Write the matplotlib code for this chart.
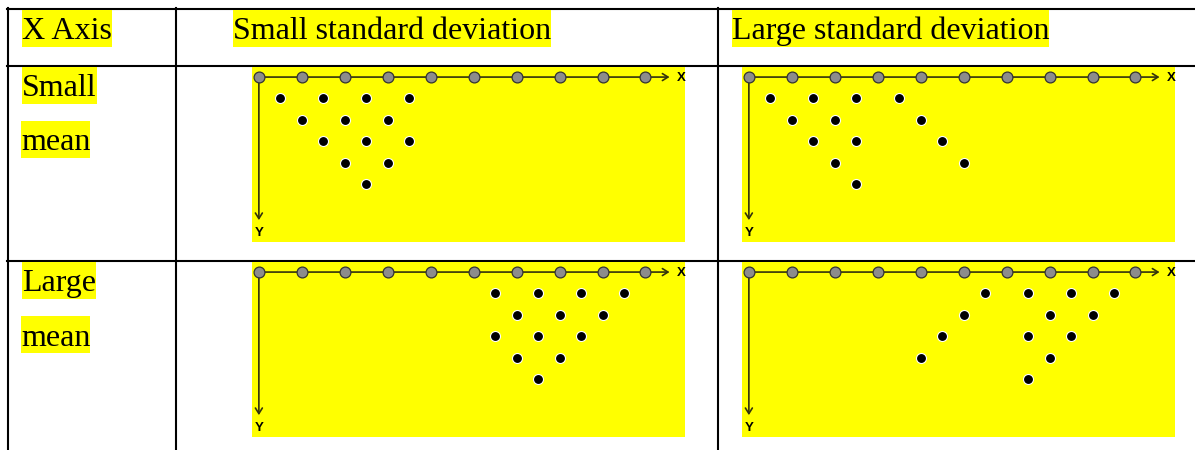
import matplotlib
matplotlib.use("Agg")
import matplotlib.pyplot as plt
from matplotlib.patches import Rectangle

W, H = 1195, 450

# texts of the table
corner_label = "X Axis"
col_labels = ["Small standard deviation", "Large standard deviation"]
row_labels = [("Small", "mean"), ("Large", "mean")]

# grey positions along the X axis
axis_x = [0, 1, 2, 3, 4, 5, 6, 7, 8, 9]

# black dots of each panel (x on the grey scale, y = row below the axis)
dots_y = [1, 1, 1, 1, 2, 2, 2, 3, 3, 3, 4, 4, 5]
dots_small_mean_small_sd = [0.5, 1.5, 2.5, 3.5, 1, 2, 3, 1.5, 2.5, 3.5, 2, 3, 2.5]
dots_small_mean_large_sd = [0.5, 1.5, 2.5, 3.5, 1, 2, 4, 1.5, 2.5, 4.5, 2, 5, 2.5]
dots_large_mean_small_sd = [5.5, 6.5, 7.5, 8.5, 6, 7, 8, 5.5, 6.5, 7.5, 6, 7, 6.5]
dots_large_mean_large_sd = [5.5, 6.5, 7.5, 8.5, 5, 7, 8, 4.5, 6.5, 7.5, 4, 7, 6.5]

YELLOW = "#ffff00"
LINE = "#33330d"

fig = plt.figure(figsize=(W / 100, H / 100), dpi=100)
bg = fig.add_axes([0, 0, 1, 1])
bg.set_xlim(0, W)
bg.set_ylim(H, 0)
bg.axis("off")

# table rules
lw = 1.5
bg.plot([7, W], [9, 9], color="black", lw=lw)
bg.plot([7, W], [65.5, 65.5], color="black", lw=lw)
bg.plot([7, W], [261, 261], color="black", lw=lw)
for xv in [8, 176, 718]:
    bg.plot([xv, xv], [8, H], color="black", lw=lw)

fig.canvas.draw()
renderer = fig.canvas.get_renderer()


def highlighted(x, baseline, s):
    t = bg.text(x, baseline, s, family="Liberation Serif", fontsize=23,
                ha="left", va="baseline", color="black", zorder=3)
    ext = t.get_window_extent(renderer)
    bg.add_patch(Rectangle((ext.x0, baseline - 29.5), ext.width, 37,
                           facecolor=YELLOW, edgecolor="none", zorder=2))


highlighted(22, 39, corner_label)
highlighted(233, 39, col_labels[0])
highlighted(732, 39, col_labels[1])
for (w1, w2), base in zip(row_labels, [96.5, 291.5]):
    highlighted(22, base, w1)
    highlighted(21, base + 54, w2)


def panel(left, top, xs):
    ax = fig.add_axes([left / W, 1 - (top + 175) / H, 433 / W, 175 / H])
    ax.set_facecolor(YELLOW)
    ax.set_xlim(-0.16, 9.92)
    ax.set_ylim(7.7, -0.47)
    for s in ax.spines.values():
        s.set_visible(False)
    ax.set_xticks([])
    ax.set_yticks([])
    arrow = dict(arrowstyle="->,head_length=0.4,head_width=0.25",
                 color=LINE, lw=1.2, shrinkA=0, shrinkB=0)
    ax.annotate("", xy=(9.56, 0), xytext=(0, 0), arrowprops=arrow)
    ax.annotate("", xy=(0, 6.68), xytext=(0, 0), arrowprops=arrow)
    ax.text(9.84, 0.05, "X", family="Liberation Sans", weight="bold", fontsize=9.5,
            ha="center", va="center")
    ax.text(0, 7.3, "Y", family="Liberation Sans", weight="bold", fontsize=9.5,
            ha="center", va="center")
    ax.plot(axis_x, [0] * len(axis_x), "o", ms=7.8, mfc="#8c8c8c", mec="#333333",
            mew=0.9, zorder=3)
    ax.plot(xs, dots_y, "o", ms=7.2, mfc="black", mec="white", mew=0.8, zorder=3)


panel(252, 67, dots_small_mean_small_sd)
panel(742, 67, dots_small_mean_large_sd)
panel(252, 262, dots_large_mean_small_sd)
panel(742, 262, dots_large_mean_large_sd)

fig.savefig("out.png", dpi=100)
